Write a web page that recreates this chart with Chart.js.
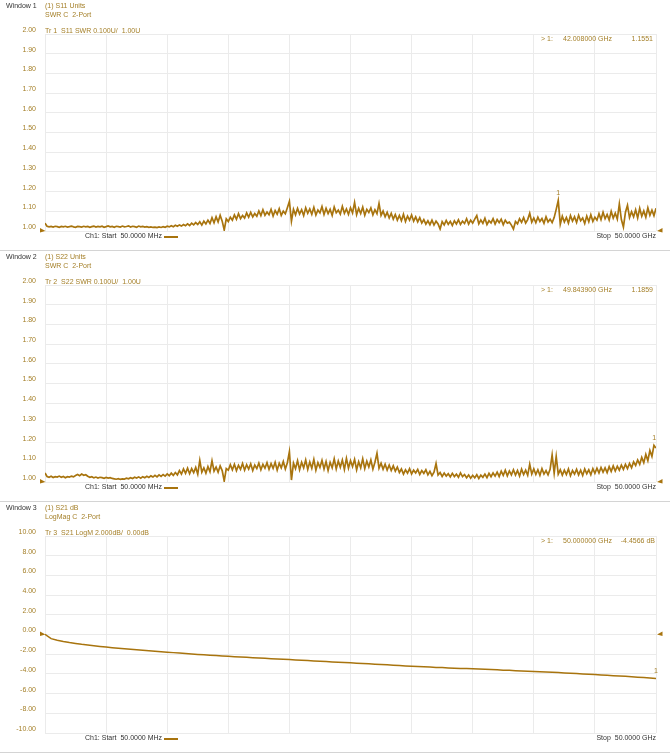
<!DOCTYPE html>
<html><head><meta charset="utf-8">
<script src="https://cdn.jsdelivr.net/npm/chart.js@4.4.1/dist/chart.umd.min.js"></script>
<style>
html,body{margin:0;padding:0;background:#fff;}
#root{position:relative;width:670px;height:754px;overflow:hidden;font-family:"Liberation Sans",Arial,sans-serif;}
.panel{position:absolute;left:0;width:670px;height:251px;}
.panel canvas{position:absolute;left:0;top:0;}
.t{position:absolute;font-size:7px;line-height:8px;white-space:pre;}
.gold{color:#a5802a;}
.dark{color:#333;}
.sep{position:absolute;left:0;width:670px;height:1px;background:#d4d4d4;}
.seg{position:absolute;height:1.5px;background:#a8740e;}
</style></head>
<body><div id="root"></div>
<script>
// ---- data ----
const sweepStartGHz = 0.05;
const sweepStopGHz = 50.0;
const windowTitles = ['Window 1', 'Window 2', 'Window 3'];
const measLabels = ['(1) S11 Units', '(1) S22 Units', '(1) S21 dB'];
const formatLabels = ['SWR C  2-Port', 'SWR C  2-Port', 'LogMag C  2-Port'];
const traceLabels = ['Tr 1  S11 SWR 0.100U/  1.00U', 'Tr 2  S22 SWR 0.100U/  1.00U', 'Tr 3  S21 LogM 2.000dB/  0.00dB'];
const markerFreqs = [42.008, 49.8439, 50.0];
const markerFreqText = ['42.008000 GHz', '49.843900 GHz', '50.000000 GHz'];
const markerValues = [1.1551, 1.1859, -4.4566];
const markerValueText = ['1.1551', '1.1859', '-4.4566 dB'];
const refLevels = [1.0, 1.0, 0.0];
const startText = 'Ch1: Start  50.0000 MHz';
const stopText = 'Stop  50.0000 GHz';
const swrAxis = { min: 1.0, max: 2.0, step: 0.1 };
const dbAxis = { min: -10, max: 10, step: 2 };

const s11Values = [
1.040,1.024,1.021,1.023,1.020,1.024,1.022,1.019,1.023,1.021,
1.024,1.020,1.022,1.025,1.021,1.019,1.023,1.022,1.020,1.024,
1.021,1.023,1.019,1.022,1.025,1.020,1.023,1.021,1.024,1.019,
1.022,1.026,1.021,1.023,1.019,1.024,1.022,1.020,1.025,1.021,
1.023,1.026,1.020,1.024,1.022,1.019,1.025,1.021,1.023,1.020,
1.022,1.019,1.021,1.018,1.020,1.017,1.021,1.018,1.022,1.019,
1.024,1.021,1.027,1.022,1.029,1.024,1.031,1.025,1.033,1.027,
1.036,1.028,1.040,1.031,1.043,1.033,1.047,1.030,1.050,1.036,
1.055,1.038,1.068,1.042,1.072,1.046,1.080,1.050,1.005,1.062,
1.048,1.070,1.055,1.082,1.060,1.088,1.063,1.079,1.066,1.092,
1.070,1.095,1.072,1.089,1.075,1.102,1.078,1.108,1.080,1.096,
1.082,1.110,1.076,1.104,1.085,1.113,1.079,1.101,1.088,1.118,
1.150,1.050,1.110,1.082,1.115,1.086,1.108,1.078,1.118,1.090,
1.112,1.085,1.120,1.081,1.107,1.092,1.124,1.084,1.115,1.088,
1.110,1.079,1.122,1.093,1.106,1.086,1.125,1.090,1.112,1.084,
1.118,1.092,1.145,1.083,1.115,1.089,1.121,1.080,1.110,1.094,
1.117,1.082,1.108,1.088,1.140,1.079,1.101,1.072,1.095,1.066,
1.090,1.060,1.084,1.055,1.079,1.052,1.085,1.048,1.076,1.055,
1.081,1.050,1.072,1.046,1.068,1.040,1.058,1.035,1.052,1.032,
1.055,1.030,1.050,1.036,1.010,1.048,1.031,1.054,1.034,1.049,
1.028,1.052,1.036,1.057,1.033,1.050,1.038,1.062,1.035,1.055,
1.040,1.060,1.078,1.036,1.056,1.039,1.065,1.033,1.052,1.041,
1.063,1.035,1.058,1.042,1.060,1.032,1.055,1.040,1.045,1.030,
1.010,1.048,1.036,1.062,1.044,1.068,1.040,1.058,1.090,1.045,
1.066,1.042,1.070,1.048,1.063,1.039,1.072,1.046,1.060,1.043,
1.068,1.110,1.1551,1.035,1.075,1.046,1.069,1.040,1.078,1.050,
1.072,1.043,1.080,1.052,1.066,1.038,1.076,1.047,1.083,1.049,
1.070,1.055,1.088,1.058,1.095,1.062,1.084,1.056,1.100,1.065,
1.090,1.060,1.137,1.058,1.020,1.095,1.130,1.068,1.098,1.072,
1.108,1.066,1.115,1.075,1.102,1.070,1.118,1.080,1.106,1.078,
1.115];

const s22Values = [
1.046,1.028,1.024,1.029,1.023,1.027,1.025,1.030,1.024,1.028,
1.022,1.027,1.025,1.030,1.026,1.033,1.038,1.032,1.040,1.034,
1.037,1.029,1.024,1.027,1.021,1.025,1.020,1.024,1.022,1.019,
1.023,1.020,1.022,1.018,1.016,1.014,1.017,1.013,1.016,1.015,
1.019,1.016,1.022,1.018,1.024,1.020,1.026,1.019,1.027,1.022,
1.029,1.023,1.031,1.025,1.034,1.026,1.036,1.028,1.038,1.030,
1.041,1.032,1.045,1.034,1.048,1.036,1.058,1.040,1.066,1.044,
1.070,1.042,1.068,1.047,1.074,1.040,1.110,1.050,1.072,1.045,
1.078,1.052,1.108,1.055,1.076,1.050,1.082,1.058,1.005,1.068,
1.060,1.088,1.062,1.090,1.058,1.085,1.064,1.094,1.060,1.088,
1.066,1.092,1.058,1.086,1.068,1.096,1.062,1.090,1.070,1.098,
1.064,1.093,1.069,1.100,1.060,1.095,1.072,1.104,1.066,1.098,
1.154,1.010,1.096,1.068,1.108,1.062,1.100,1.072,1.112,1.064,
1.102,1.070,1.115,1.060,1.098,1.074,1.110,1.066,1.104,1.058,
1.100,1.072,1.118,1.066,1.106,1.075,1.112,1.064,1.120,1.070,
1.108,1.078,1.115,1.062,1.103,1.072,1.118,1.068,1.106,1.076,
1.112,1.065,1.100,1.146,1.070,1.095,1.064,1.090,1.060,1.086,
1.058,1.082,1.055,1.076,1.048,1.066,1.040,1.062,1.045,1.068,
1.041,1.060,1.046,1.064,1.038,1.058,1.044,1.062,1.036,1.054,
1.032,1.050,1.094,1.035,1.048,1.028,1.045,1.030,1.042,1.026,
1.044,1.028,1.040,1.024,1.046,1.027,1.038,1.022,1.036,1.019,
1.034,1.021,1.037,1.018,1.035,1.024,1.040,1.022,1.044,1.027,
1.046,1.030,1.050,1.028,1.055,1.034,1.060,1.031,1.056,1.036,
1.062,1.035,1.058,1.030,1.065,1.038,1.060,1.034,1.090,1.040,
1.066,1.038,1.062,1.034,1.068,1.040,1.058,1.036,1.064,1.137,
1.045,1.130,1.040,1.062,1.035,1.060,1.038,1.066,1.032,1.058,
1.040,1.064,1.036,1.060,1.033,1.066,1.042,1.062,1.037,1.068,
1.044,1.070,1.046,1.074,1.050,1.072,1.048,1.078,1.054,1.082,
1.056,1.080,1.060,1.086,1.064,1.090,1.068,1.094,1.072,1.102,
1.084,1.112,1.090,1.125,1.098,1.140,1.108,1.160,1.130,1.1859,
1.172];

const s21Values = [
0.02,-0.42,-0.58,-0.71,-0.82,-0.91,-1.00,-1.07,-1.15,-1.22,
-1.28,-1.34,-1.40,-1.45,-1.50,-1.55,-1.60,-1.65,-1.70,-1.75,
-1.80,-1.84,-1.89,-1.93,-1.97,-2.02,-2.06,-2.10,-2.14,-2.18,
-2.22,-2.25,-2.29,-2.32,-2.35,-2.39,-2.42,-2.45,-2.49,-2.52,
-2.55,-2.59,-2.62,-2.65,-2.69,-2.72,-2.75,-2.78,-2.82,-2.85,
-2.88,-2.92,-2.95,-2.98,-3.02,-3.05,-3.08,-3.12,-3.15,-3.19,
-3.22,-3.25,-3.28,-3.31,-3.34,-3.36,-3.39,-3.42,-3.44,-3.46,
-3.48,-3.51,-3.54,-3.56,-3.59,-3.62,-3.64,-3.67,-3.70,-3.72,
-3.75,-3.78,-3.81,-3.84,-3.87,-3.90,-3.94,-3.97,-4.00,-4.04,
-4.07,-4.11,-4.14,-4.18,-4.22,-4.25,-4.29,-4.33,-4.37,-4.41,
-4.4566];

// ---- styling ----
const TRACE = '#a8740e';
const GOLD = '#a5802a';
const GRID = '#ebebeb';
const FONT = '"Liberation Sans", Arial, sans-serif';
const PANEL_H = 251;
const panelTops = [0, 251, 502];

function sweepPoints(vals) {
  const n = vals.length;
  const step = (sweepStopGHz - sweepStartGHz) / (n - 1);
  return vals.map((v, i) => ({ x: sweepStartGHz + i * step, y: v }));
}
const xTickVals = [];
for (let k = 0; k <= 10; k++) xTickVals.push(sweepStartGHz + k * (sweepStopGHz - sweepStartGHz) / 10);

const root = document.getElementById('root');
function addText(parent, txt, cls, css) {
  const s = document.createElement('span');
  s.className = 't ' + cls;
  s.textContent = txt;
  Object.assign(s.style, css);
  parent.appendChild(s);
  return s;
}

const decorPlugin = {
  id: 'decor',
  afterDraw(chart, args, opts) {
    const ctx = chart.ctx, ca = chart.chartArea;
    const xs = chart.scales.x, ys = chart.scales.y;
    const ry = ys.getPixelForValue(opts.ref);
    ctx.save();
    ctx.fillStyle = TRACE;
    ctx.beginPath();
    ctx.moveTo(ca.left + 0.5, ry); ctx.lineTo(ca.left - 5, ry - 3); ctx.lineTo(ca.left - 5, ry + 1.5); ctx.closePath(); ctx.fill();
    ctx.beginPath();
    ctx.moveTo(ca.right + 1, ry); ctx.lineTo(ca.right + 6.5, ry - 3); ctx.lineTo(ca.right + 6.5, ry + 1.5); ctx.closePath(); ctx.fill();
    const mx = xs.getPixelForValue(opts.mf), my = ys.getPixelForValue(opts.mv);
    ctx.fillStyle = GOLD;
    ctx.font = '7px ' + FONT;
    ctx.textAlign = 'center';
    ctx.textBaseline = 'middle';
    ctx.fillText('1', mx, my - 7);
    ctx.restore();
  }
};

const series = [s11Values, s22Values, s21Values];
const axes = [swrAxis, swrAxis, dbAxis];

for (let w = 0; w < 3; w++) {
  const p = document.createElement('div');
  p.className = 'panel';
  p.style.top = panelTops[w] + 'px';
  root.appendChild(p);
  const c = document.createElement('canvas');
  c.width = 670; c.height = PANEL_H;
  c.style.width = '670px'; c.style.height = PANEL_H + 'px';
  p.appendChild(c);
  const ax = axes[w];
  new Chart(c, {
    type: 'line',
    data: { datasets: [{ data: sweepPoints(series[w]), borderColor: TRACE, borderWidth: w === 2 ? 1.5 : 1.7, borderJoinStyle: 'miter', pointRadius: 0, tension: 0, fill: false }] },
    options: {
      animation: false, responsive: false, maintainAspectRatio: false, events: [],
      layout: { padding: { left: 0, right: 14, top: 34, bottom: 20 } },
      plugins: { legend: { display: false }, tooltip: { enabled: false },
        decor: { ref: refLevels[w], mf: markerFreqs[w], mv: markerValues[w] } },
      scales: {
        x: { type: 'linear', min: sweepStartGHz, max: sweepStopGHz,
          afterBuildTicks: a => { a.ticks = xTickVals.map(v => ({ value: v })); },
          grid: { color: GRID, drawTicks: false }, border: { display: false },
          ticks: { display: false } },
        y: { type: 'linear', min: ax.min, max: ax.max,
          afterFit: s => { s.width = 45; },
          ticks: { stepSize: ax.step, padding: 9, labelOffset: -4, color: GOLD,
            font: { family: FONT, size: 7 }, callback: v => Number(v).toFixed(2) },
          grid: { color: GRID, drawTicks: false }, border: { display: false } }
      }
    },
    plugins: [decorPlugin]
  });
  addText(p, windowTitles[w], 'dark', { left: '6px', top: '2px' });
  addText(p, measLabels[w], 'gold', { left: '45px', top: '2px' });
  addText(p, formatLabels[w], 'gold', { left: '45px', top: '11px' });
  addText(p, traceLabels[w], 'gold', { left: '45px', top: '27px' });
  addText(p, '> 1:', 'gold', { left: '541px', top: '35px' });
  addText(p, markerFreqText[w], 'gold', { left: '563px', top: '35px' });
  addText(p, markerValueText[w], 'gold', { right: w === 2 ? '15px' : '17px', top: '35px' });
  addText(p, startText, 'dark', { left: '85px', top: '232px' });
  const seg = document.createElement('div');
  seg.className = 'seg';
  Object.assign(seg.style, { left: '164px', width: '14px', top: '236px' });
  p.appendChild(seg);
  addText(p, stopText, 'dark', { right: '14px', top: '232px' });
}
[250, 501, 752].forEach(y => {
  const d = document.createElement('div');
  d.className = 'sep'; d.style.top = y + 'px';
  root.appendChild(d);
});
</script>
</body></html>
